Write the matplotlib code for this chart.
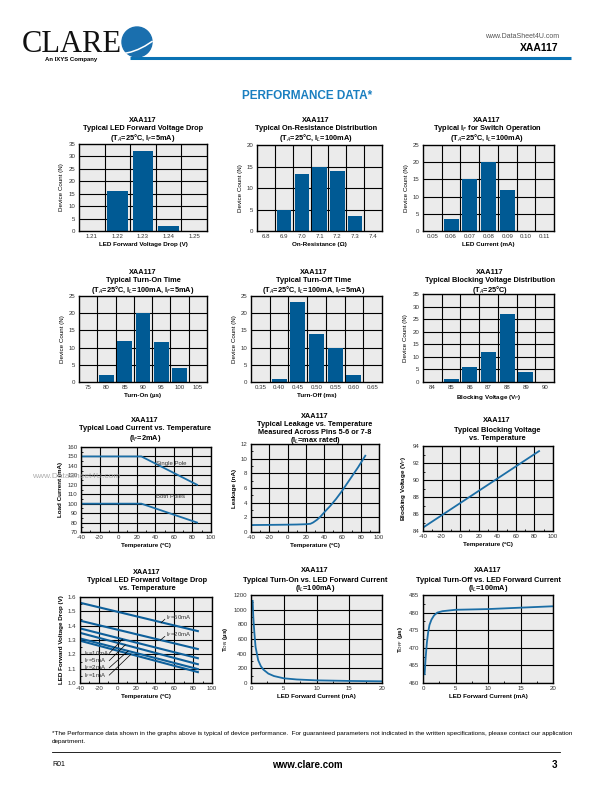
import matplotlib
matplotlib.use('Agg')
import matplotlib.pyplot as plt
import numpy as np
from matplotlib.patches import Circle
from matplotlib.ticker import AutoMinorLocator, MultipleLocator, FormatStrFormatter

plt.rcParams['font.family'] = ['Liberation Sans', 'DejaVu Sans']
plt.rcParams['mathtext.fontset'] = 'custom'
plt.rcParams['mathtext.rm'] = 'Liberation Sans'
plt.rcParams['mathtext.bf'] = 'Liberation Sans:bold'
plt.rcParams['axes.unicode_minus'] = False

W, H = 612, 792

# ---------------- data ----------------
vf_cats = ['1.21', '1.22', '1.23', '1.24', '1.25']
vf_counts = [0, 16, 32, 2, 0]
ron_cats = ['6.8', '6.9', '7.0', '7.1', '7.2', '7.3', '7.4']
ron_counts = [0, 5, 13.3, 14.8, 14, 3.5, 0]
if_cats = ['0.05', '0.06', '0.07', '0.08', '0.09', '0.10', '0.11']
if_counts = [0, 3.5, 15, 20, 12, 0, 0]
ton_cats = ['75', '80', '85', '90', '95', '100', '105']
ton_counts = [0, 2, 12, 20, 11.6, 4, 0]
toff_cats = ['0.35', '0.40', '0.45', '0.50', '0.55', '0.60', '0.65']
toff_counts = [0, 1, 23.3, 14, 10, 2, 0]
bv_cats = ['84', '85', '86', '87', '88', '89', '90']
bv_counts = [0, 1.2, 6, 12, 27, 4, 0]

load_temp = [-40, 25, 85]
load_single = [150, 150, 120]
load_both = [100, 100, 80]

leak_temp = [-40, -20, 0, 10, 20, 25, 28, 32, 36, 41, 47, 53, 59, 65, 71, 77, 81, 85]
leak_na = [0.95, 0.97, 1.0, 1.02, 1.06, 1.12, 1.3, 1.65, 2.1, 2.8, 3.6, 4.5, 5.5, 6.6, 7.7, 8.8, 9.6, 10.4]

bvt_temp = [-40, 85]
bvt_volts = [84.4, 93.4]

vft_temp = [-40, 85]
vft_50 = [1.56, 1.362]
vft_20 = [1.435, 1.237]
vft_10 = [1.381, 1.173]
vft_5 = [1.35, 1.131]
vft_2 = [1.311, 1.097]
vft_1 = [1.295, 1.076]

tonf_if = [0.25, 0.35, 0.5, 0.7, 1.1, 1.5, 1.9, 2.65, 3.5, 5, 7, 10, 15, 20]
tonf_us = [1120, 900, 700, 490, 310, 230, 182, 128, 95, 64, 48, 36, 28, 23]

tofff_if = [0.25, 0.3, 0.4, 0.5, 0.6, 0.8, 1.0, 1.3, 1.7, 2.2, 3, 4, 5, 10, 15, 20]
tofff_us = [462.5, 464, 467, 469.3, 471.5, 474.5, 476.5, 478, 479.2, 480, 480.4, 480.6, 480.8, 481.0, 481.4, 481.8]

# ---------------- figure ----------------
fig = plt.figure(figsize=(W / 100, H / 100), dpi=100)
bg = fig.add_axes([0, 0, 1, 1])
bg.set_xlim(0, W)
bg.set_ylim(H, 0)
bg.axis('off')

BG = '#ebebeb'
BAR = '#005a94'
LINE = '#1b6ea6'
TICKC = '#333333'

def px_axes(x0, y0, x1, y1):
    return fig.add_axes([x0 / W, 1 - y1 / H, (x1 - x0) / W, (y1 - y0) / H])

def style_common(ax):
    ax.set_facecolor(BG)
    for s in ax.spines.values():
        s.set_linewidth(1.0)
        s.set_color('black')
        s.set_zorder(5)
    ax.tick_params(labelsize=4.4, colors=TICKC, length=0, pad=2.5)

def titles(cx, ys, lines):
    for y, t in zip(ys, lines):
        bg.text(cx, y, t, ha='center', va='center', fontsize=5.3, weight='bold')

def bar_chart(box, cats, counts, ymax, ystep, xlabel):
    ax = px_axes(*box)
    style_common(ax)
    n = len(cats)
    x = np.arange(n)
    ax.set_xlim(-0.5, n - 0.5)
    ax.set_ylim(0, ymax)
    ax.set_yticks(np.arange(0, ymax + 0.1, ystep))
    ax.set_xticks(x)
    ax.set_xticklabels(cats)
    for k in range(n - 1):
        ax.axvline(k + 0.5, color='k', lw=0.8, zorder=1)
    for yv in np.arange(ystep, ymax, ystep):
        ax.axhline(yv, color='k', lw=0.8, zorder=1)
    ax.bar(x, counts, width=0.8, color=BAR, zorder=2)
    ax.set_ylabel('Device Count (N)', fontsize=4.5, labelpad=3)
    ax.set_xlabel(xlabel, fontsize=4.5, labelpad=1.5, weight='bold')
    return ax

def line_chart(box, xlim, xstep, ylim, ystep, xlabel, ylabel):
    ax = px_axes(*box)
    style_common(ax)
    ax.set_xlim(*xlim)
    ax.set_ylim(*ylim)
    ax.xaxis.set_major_locator(MultipleLocator(xstep))
    ax.yaxis.set_major_locator(MultipleLocator(ystep))
    ax.xaxis.set_minor_locator(AutoMinorLocator(2))
    ax.yaxis.set_minor_locator(AutoMinorLocator(2))
    ax.grid(True, which='major', color='k', lw=0.8)
    ax.set_axisbelow(True)
    ax.tick_params(which='minor', direction='in', length=1.5, width=0.6)
    ax.tick_params(which='major', length=0)
    ax.set_xlabel(xlabel, fontsize=4.5, labelpad=1.5, weight='bold')
    ax.set_ylabel(ylabel, fontsize=4.5, labelpad=3, weight='bold')
    return ax

# ---------------- header ----------------
bg.text(22, 52, 'CLARE', fontsize=22, family='Liberation Serif', va='baseline', color='#111111')
bg.add_patch(Circle((137, 42), 15, color='#1a6fae', zorder=2))
sx = np.array([124.0, 131.0, 138.0, 145.0, 152.0])
sy = np.array([53.5, 52.0, 49.5, 46.0, 41.5])
bg.plot(sx, sy, color='white', lw=1.1, zorder=3)
bg.text(45, 59.5, 'An IXYS Company', fontsize=4.3, weight='bold', va='center')
bg.plot([130, 571], [57.5, 57.5], color='#0a72b4', lw=2.2, solid_capstyle='butt', zorder=1)
bg.text(559, 37, 'www.DataSheet4U.com', fontsize=5, color='#555555', ha='right', va='center')
bg.text(559, 48, 'XAA117', fontsize=7.5, weight='bold', ha='right', va='center')
bg.text(307, 96, 'PERFORMANCE DATA*', fontsize=8.5, weight='bold', color='#1a7fc0', ha='center', va='center')

# ---------------- row 1 ----------------
titles(143, [120, 129, 137.5], ['XAA117', 'Typical LED Forward Voltage Drop',
                                 '(T$_A$=25°C, I$_F$=5mA)'])
bar_chart((79, 144, 207, 231), vf_cats, vf_counts, 35, 5, 'LED Forward Voltage Drop (V)')

titles(316, [120, 129, 137.5], ['XAA117', 'Typical On-Resistance Distribution',
                                 '(T$_A$=25°C, I$_L$=100mA)'])
bar_chart((257, 145, 382, 231), ron_cats, ron_counts, 20, 5, 'On-Resistance (Ω)')

titles(487, [120, 129, 137.5], ['XAA117', 'Typical I$_F$ for Switch Operation',
                                 '(T$_A$=25°C, I$_L$=100mA)'])
bar_chart((423, 145, 554, 231), if_cats, if_counts, 25, 5, 'LED Current (mA)')

# ---------------- row 2 ----------------
titles(143, [272, 281, 289.5], ['XAA117', 'Typical Turn-On Time',
                                 '(T$_A$=25°C, I$_L$=100mA, I$_F$=5mA)'])
bar_chart((79, 296, 207, 382), ton_cats, ton_counts, 25, 5, 'Turn-On (µs)')

titles(314, [272, 281, 289.5], ['XAA117', 'Typical Turn-Off Time',
                                 '(T$_A$=25°C, I$_L$=100mA, I$_F$=5mA)'])
bar_chart((251, 296, 382, 382), toff_cats, toff_counts, 25, 5, 'Turn-Off (ms)')

titles(490, [272, 281, 289.5], ['XAA117', 'Typical Blocking Voltage Distribution',
                                 '(T$_A$=25°C)'])
bar_chart((423, 294, 554, 382), bv_cats, bv_counts, 35, 5, 'Blocking Voltage (V$_P$)')

# ---------------- row 3 ----------------
titles(145, [420, 429, 438], ['XAA117', 'Typical Load Current vs. Temperature',
                               '(I$_F$=2mA)'])
ax7 = line_chart((81, 447, 211, 532), (-40, 100), 20, (70, 160), 10,
                 'Temperature (ºC)', 'Load Current (mA)')
ax7.plot(load_temp, load_single, color=LINE, lw=1.3)
ax7.plot(load_temp, load_both, color=LINE, lw=1.3)
ax7.text(41, 143, 'Single Pole', fontsize=4.3, color=TICKC, va='center')
ax7.text(41, 108, 'Both Poles', fontsize=4.3, color=TICKC, va='center')

titles(315, [416, 424, 433, 441], ['XAA117', 'Typical Leakage vs. Temperature',
                                    'Measured Across Pins 5-6 or 7-8',
                                    '(I$_L$=max rated)'])
ax8 = line_chart((251, 444, 379, 532), (-40, 100), 20, (0, 12), 2,
                 'Temperature (ºC)', 'Leakage (nA)')
ax8.plot(leak_temp, leak_na, color=LINE, lw=1.3)

titles(497, [421, 430, 438], ['XAA117', 'Typical Blocking Voltage', 'vs. Temperature'])
ax9 = line_chart((423, 446, 553, 531), (-40, 100), 20, (84, 94), 2,
                 'Temperature (ºC)', 'Blocking Voltage (V$_P$)')
ax9.plot(bvt_temp, bvt_volts, color=LINE, lw=1.3)

# ---------------- row 4 ----------------
titles(147, [572, 580, 589], ['XAA117', 'Typical LED Forward Voltage Drop', 'vs. Temperature'])
ax10 = line_chart((80, 597, 212, 683), (-40, 100), 20, (1.0, 1.6), 0.1,
                  'Temperature (ºC)', 'LED Forward Voltage Drop (V)')
ax10.yaxis.set_major_formatter(FormatStrFormatter('%.1f'))
for series in (vft_50, vft_20, vft_10, vft_5, vft_2, vft_1):
    ax10.plot(vft_temp, series, color='#0d5f9a', lw=1.5)
ax10.text(51, 1.46, 'I$_F$=50mA', fontsize=4.3, color=TICKC, va='center')
ax10.plot([50, 46], [1.445, 1.42], color='k', lw=0.5)
ax10.text(51, 1.34, 'I$_F$=20mA', fontsize=4.3, color=TICKC, va='center')
ax10.plot([50, 45], [1.325, 1.298], color='k', lw=0.5)
left_labels = [('I$_F$=10mA', 1.207, vft_10, 5), ('I$_F$=5mA', 1.156, vft_5, 8),
               ('I$_F$=2mA', 1.106, vft_2, 11), ('I$_F$=1mA', 1.055, vft_1, 14)]
for lab, yy, ser, xt in left_labels:
    ax10.text(-36, yy, lab, fontsize=4.3, color=TICKC, va='center')
    yl = ser[0] + (ser[1] - ser[0]) * (xt + 40) / 125
    ax10.plot([-9, xt], [yy, yl], color='k', lw=0.5)

titles(315, [571, 580, 588], ['XAA117', 'Typical Turn-On vs. LED Forward Current',
                               '(I$_L$=100mA)'])
ax11 = line_chart((251, 595, 382, 683), (0, 20), 5, (0, 1200), 200,
                  'LED Forward Current (mA)', 'T$_{ON}$ (µs)')
ax11.plot(tonf_if, tonf_us, color=LINE, lw=1.3)

titles(488, [571, 580, 588], ['XAA117', 'Typical Turn-Off vs. LED Forward Current',
                               '(I$_L$=100mA)'])
ax12 = line_chart((423, 595, 553, 683), (0, 20), 5, (460, 485), 5,
                  'LED Forward Current (mA)', 'T$_{OFF}$ (µs)')
ax12.plot(tofff_if, tofff_us, color=LINE, lw=1.3)

# ---------------- footer ----------------
bg.text(52, 733, '*The Performance data shown in the graphs above is typical of device performance.  '
        'For guaranteed parameters not indicated in the written specifications, please contact our application',
        fontsize=4.6, va='center')
bg.text(52, 741, 'department.', fontsize=4.6, va='center')
bg.plot([52, 560], [752, 752], color='k', lw=0.6)
bg.text(52, 765, 'R01', fontsize=5, va='center')
bg.text(307, 765, 'www.clare.com', fontsize=7, weight='bold', ha='center', va='center')
bg.text(557, 765, '3', fontsize=7, weight='bold', ha='right', va='center')

fig.text(32 / W, 1 - 476 / H, 'www.DataSheet4U.com', fontsize=6, color='#999999',
         va='center', alpha=0.8, zorder=10)

fig.savefig('out.png', dpi=100)
